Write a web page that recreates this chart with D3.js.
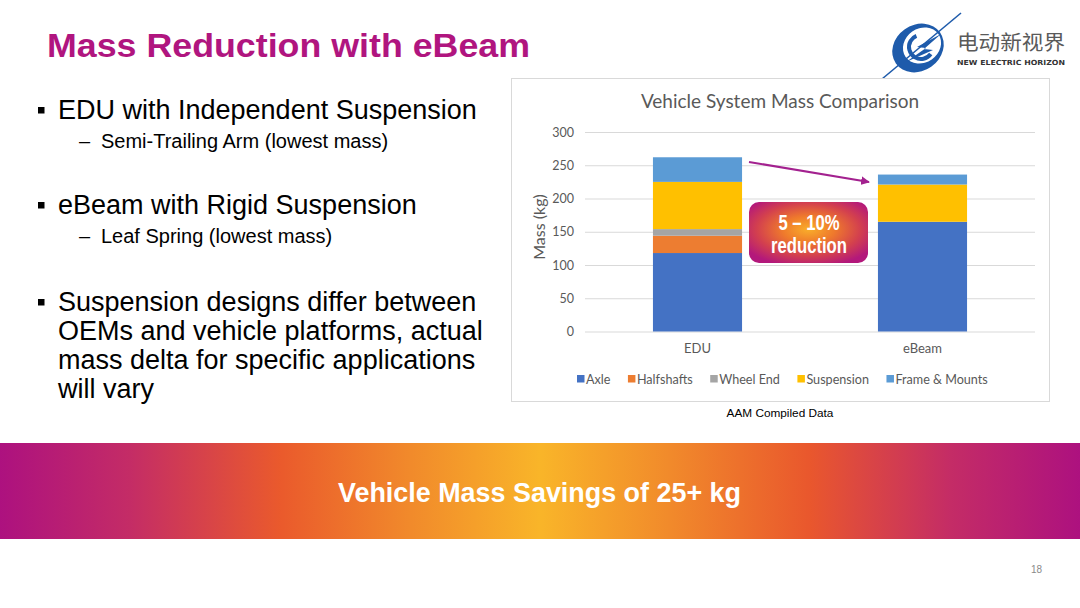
<!DOCTYPE html>
<html>
<head>
<meta charset="utf-8">
<script src="https://cdn.jsdelivr.net/npm/d3@7"></script>
<style>
  html, body { margin: 0; padding: 0; background: #fff; }
  svg { display: block; }
</style>
</head>
<body>
<div id="slide"></div>
<script>
// chart values
var categories = ["EDU", "eBeam"];
var seriesNames = ["Axle", "Halfshafts", "Wheel End", "Suspension", "Frame & Mounts"];
var seriesColors = ["#4472c4", "#ed7d31", "#a5a5a5", "#ffc000", "#5b9bd5"];
var axle = [118, 165];
var halfshafts = [26, 0];
var wheelEnd = [10, 0];
var suspension = [71, 56];
var frameMounts = [37, 15];
var yTicks = [0, 50, 100, 150, 200, 250, 300];

// slide text
var slideTitle = "Mass Reduction with eBeam";
var bullets = [
  { main: ["EDU with Independent Suspension"], sub: "Semi-Trailing Arm (lowest mass)" },
  { main: ["eBeam with Rigid Suspension"], sub: "Leaf Spring (lowest mass)" },
  { main: ["Suspension designs differ between", "OEMs and vehicle platforms, actual",
           "mass delta for specific applications", "will vary"], sub: null }
];
var calloutLines = ["5 \u2013 10%", "reduction"];
var bannerText = "Vehicle Mass Savings of 25+ kg";

var width = 1080, height = 608;

var svg = d3.select("#slide").append("svg")
    .attr("width", width)
    .attr("height", height);

var defs = svg.append("defs");

//banner gradient
var bg = defs.append("linearGradient").attr("id", "bannerGrad")
    .attr("x1", "0%").attr("x2", "100%").attr("y1", "0%").attr("y2", "0%");
[["0%", "#ad117f"], ["12%", "#c42c66"], ["26%", "#ea5a2c"], ["38%", "#f18a2b"],
 ["50%", "#f9b529"], ["62%", "#f18a2b"], ["75%", "#e9572d"], ["88%", "#c42c66"], ["100%", "#ad117f"]]
  .forEach(function(s) { bg.append("stop").attr("offset", s[0]).attr("stop-color", s[1]); });

//callout gradient
var cg = defs.append("radialGradient").attr("id", "calloutGrad")
    .attr("cx", "50%").attr("cy", "45%").attr("r", "62%");
[["0%", "#f9ae2a"], ["35%", "#ef7a2c"], ["70%", "#d3404e"], ["100%", "#b3187b"]]
  .forEach(function(s) { cg.append("stop").attr("offset", s[0]).attr("stop-color", s[1]); });

//arrow marker
defs.append("marker").attr("id", "arrowHead")
    .attr("viewBox", "0 0 10 10").attr("refX", 9).attr("refY", 5)
    .attr("markerWidth", 4).attr("markerHeight", 4).attr("orient", "auto")
  .append("path").attr("d", "M0,0 L10,5 L0,10 z").attr("fill", "#a3218f");

//title
svg.append("text")
    .attr("x", 47).attr("y", 57)
    .attr("font-family", "Liberation Sans, Arial, sans-serif")
    .attr("font-weight", "bold").attr("font-size", 34)
    .attr("fill", "#b0157f")
    .attr("textLength", 483).attr("lengthAdjust", "spacingAndGlyphs")
    .text(slideTitle);

//bullets
var bulletFont = "Liberation Sans, Arial, sans-serif";
var mainTops = [119, 214, 311];
bullets.forEach(function(b, i) {
  var y0 = mainTops[i];
  svg.append("rect").attr("x", 38).attr("y", y0 - 12).attr("width", 6.5).attr("height", 6.5).attr("fill", "#000");
  b.main.forEach(function(line, j) {
    svg.append("text").attr("x", 58).attr("y", y0 + j * 29)
        .attr("font-family", bulletFont).attr("font-size", 27).attr("fill", "#000")
        .text(line);
  });
  if (b.sub) {
    svg.append("text").attr("x", 79).attr("y", y0 + 29)
        .attr("font-family", bulletFont).attr("font-size", 20).attr("fill", "#000")
        .text("\u2013");
    svg.append("text").attr("x", 101).attr("y", y0 + 29)
        .attr("font-family", bulletFont).attr("font-size", 20).attr("fill", "#000")
        .text(b.sub);
  }
});

//logo
var blue = "#1e5bab";
var logo = svg.append("g");
logo.append("ellipse").attr("cx", 918).attr("cy", 48).attr("rx", 27).attr("ry", 23)
    .attr("transform", "rotate(-35 918 48)").attr("fill", blue);
logo.append("ellipse").attr("cx", 922).attr("cy", 45.5).attr("rx", 20).attr("ry", 17)
    .attr("transform", "rotate(-35 922 45.5)").attr("fill", "#fff");
logo.append("circle").attr("cx", 921).attr("cy", 47).attr("r", 12)
    .attr("fill", "none").attr("stroke", blue).attr("stroke-width", 4)
    .attr("transform", "rotate(-60 921 47)")
    .attr("stroke-dasharray", "44 40").attr("stroke-dashoffset", -20);
logo.append("path")
    .attr("d", "M941,34 L917,47 L926,48 L906,62 L933,50 L924,49 Z")
    .attr("fill", blue);
logo.append("line").attr("x1", 882).attr("y1", 79).attr("x2", 961).attr("y2", 13)
    .attr("stroke", blue).attr("stroke-width", 1.6);
logo.append("text").attr("x", 957).attr("y", 50)
    .attr("font-family", "Noto Sans CJK SC, sans-serif").attr("font-size", 20)
    .attr("fill", "#5a5a5a").attr("textLength", 108).attr("lengthAdjust", "spacingAndGlyphs")
    .text("电动新视界");
logo.append("text").attr("x", 957).attr("y", 65)
    .attr("font-family", "DejaVu Sans, sans-serif").attr("font-size", 7).attr("font-weight", "bold")
    .attr("fill", "#333").attr("textLength", 108).attr("lengthAdjust", "spacingAndGlyphs")
    .text("NEW ELECTRIC HORIZON");

//chart frame
svg.append("rect").attr("x", 511.5).attr("y", 78.5).attr("width", 538).attr("height", 323)
    .attr("fill", "#fff").attr("stroke", "#d9d9d9").attr("stroke-width", 1);

var chartFont = "Lato, Open Sans, sans-serif";
var gray = "#595959";

svg.append("text").attr("x", 780).attr("y", 108).attr("text-anchor", "middle")
    .attr("font-family", chartFont).attr("font-size", 19).attr("fill", gray)
    .text("Vehicle System Mass Comparison");

//scales
var x = d3.scaleBand().domain(categories).range([585, 1035])
    .paddingInner(0.604).paddingOuter(0.302);
var y = d3.scaleLinear().domain([0, 300]).range([331.5, 132]);

//gridlines
var grid = svg.append("g")
    .attr("transform", "translate(585,0)")
    .call(d3.axisLeft(y).tickValues(yTicks).tickSize(-450).tickFormat(""));
grid.select(".domain").remove();
grid.selectAll("line").attr("stroke", "#d9d9d9").attr("stroke-width", 1);

//y tick labels
var yAxis = svg.append("g")
    .attr("transform", "translate(574,0)")
    .call(d3.axisLeft(y).tickValues(yTicks).tickSize(0).tickPadding(0));
yAxis.select(".domain").remove();
yAxis.selectAll("text").attr("font-family", chartFont).attr("font-size", 12.5).attr("fill", gray);

svg.append("text")
    .attr("transform", "translate(545,227) rotate(-90)")
    .attr("text-anchor", "middle")
    .attr("font-family", chartFont).attr("font-size", 16).attr("fill", gray)
    .text("Mass (kg)");

//stacked bars
var table = categories.map(function(c, i) {
  return { cat: c, "Axle": axle[i], "Halfshafts": halfshafts[i], "Wheel End": wheelEnd[i],
           "Suspension": suspension[i], "Frame & Mounts": frameMounts[i] };
});
var stacked = d3.stack().keys(seriesNames)(table);

svg.append("g").selectAll("g")
    .data(stacked)
    .enter().append("g")
      .attr("fill", function(d, i) { return seriesColors[i]; })
    .selectAll("rect")
    .data(function(d) { return d; })
    .enter().append("rect")
      .attr("x", function(d) { return x(d.data.cat); })
      .attr("width", x.bandwidth())
      .attr("y", function(d) { return y(d[1]); })
      .attr("height", function(d) { return y(d[0]) - y(d[1]); });

//category labels
var xAxis = svg.append("g")
    .attr("transform", "translate(0,344)")
    .call(d3.axisBottom(x).tickSize(0).tickPadding(0));
xAxis.select(".domain").remove();
xAxis.selectAll("text").attr("font-family", chartFont).attr("font-size", 13).attr("fill", gray);

//legend
var legend = svg.append("g");
var lx = 577;
seriesNames.forEach(function(name, i) {
  legend.append("rect").attr("x", lx).attr("y", 375).attr("width", 7.5).attr("height", 7.5)
      .attr("fill", seriesColors[i]);
  var t = legend.append("text").attr("x", lx + 9).attr("y", 383.5)
      .attr("font-family", chartFont).attr("font-size", 12.6).attr("fill", gray)
      .text(name);
  lx += 9 + t.node().getComputedTextLength() + 17.5;
});

svg.append("text").attr("x", 780).attr("y", 417).attr("text-anchor", "middle")
    .attr("font-family", "Liberation Sans, Arial, sans-serif").attr("font-size", 11.8).attr("fill", "#000")
    .text("AAM Compiled Data");

//arrow
svg.append("line").attr("x1", 749).attr("y1", 162).attr("x2", 869).attr("y2", 182)
    .attr("stroke", "#a3218f").attr("stroke-width", 2.2).attr("marker-end", "url(#arrowHead)");

//callout
svg.append("rect").attr("x", 749).attr("y", 202).attr("width", 119).attr("height", 61).attr("rx", 10)
    .attr("fill", "url(#calloutGrad)");
var calloutWidths = [61, 76];
calloutLines.forEach(function(line, i) {
  svg.append("text").attr("x", 809).attr("y", 230 + i * 23).attr("text-anchor", "middle")
      .attr("font-family", "Liberation Sans Narrow, Liberation Sans, Arial, sans-serif")
      .attr("font-weight", "bold").attr("font-size", 22).attr("fill", "#fff")
      .attr("textLength", calloutWidths[i]).attr("lengthAdjust", "spacingAndGlyphs")
      .text(line);
});

//banner
svg.append("rect").attr("x", 0).attr("y", 443).attr("width", width).attr("height", 96)
    .attr("fill", "url(#bannerGrad)");
svg.append("text").attr("x", 338).attr("y", 502)
    .attr("font-family", "Liberation Sans Narrow, Liberation Sans, Arial, sans-serif")
    .attr("font-weight", "bold").attr("font-size", 28).attr("fill", "#fff")
    .attr("textLength", 403).attr("lengthAdjust", "spacingAndGlyphs")
    .text(bannerText);

//page number
svg.append("text").attr("x", 1042).attr("y", 573).attr("text-anchor", "end")
    .attr("font-family", "Liberation Sans, Arial, sans-serif").attr("font-size", 10).attr("fill", "#8a8a8a")
    .text("18");
</script>
</body>
</html>
